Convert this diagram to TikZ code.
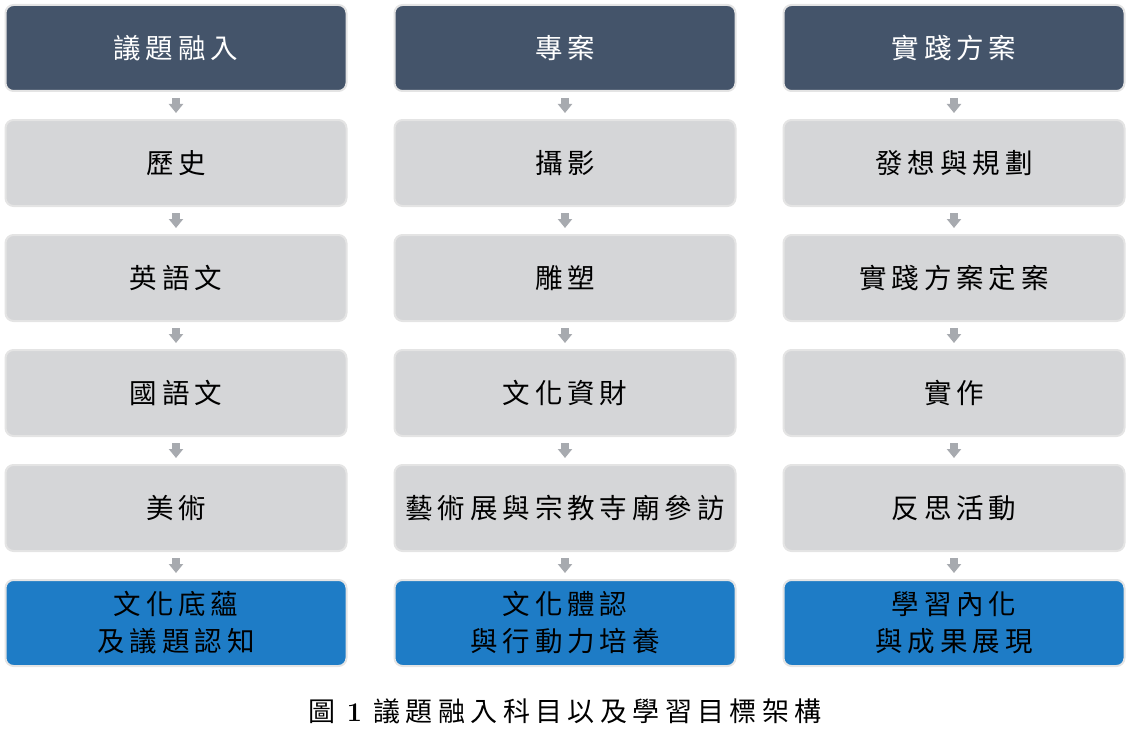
\documentclass[tikz,border=0pt]{standalone}
\usepackage{fontspec}
\usetikzlibrary{arrows.meta}
\newfontfamily\cjk[LetterSpace=18]{Noto Sans CJK TC}
\newfontfamily\cjkcap[LetterSpace=20]{Noto Sans CJK TC}
\definecolor{hdr}{HTML}{44546A}
\definecolor{gry}{HTML}{D5D6D8}
\definecolor{blu}{HTML}{1E7CC6}
\definecolor{edge}{HTML}{E4E4E4}
\definecolor{arr}{HTML}{A7AAAF}
\begin{document}
\begin{tikzpicture}[x=1pt,y=-1pt,
  box/.style={draw=edge,line width=2pt,rounded corners=8pt,minimum width=341pt,minimum height=86pt,
    align=center,inner sep=0pt,font=\cjk\fontsize{27.5}{37}\selectfont},
  hbox/.style={box,fill=hdr,text=white},
  gbox/.style={box,fill=gry,text=black},
  bbox/.style={box,fill=blu,text=black},
  flow/.style={draw=arr,line width=8pt,-{Triangle[width=14pt,length=9pt]},shorten <=6pt,shorten >=6pt}]
\useasboundingbox (0,0) rectangle (1131,741);
% column 1
\node[hbox] (a0) at (176,48) {議題融入};
\node[gbox] (a1) at (176,163) {歷史};
\node[gbox] (a2) at (176,278) {英語文};
\node[gbox] (a3) at (176,393) {國語文};
\node[gbox] (a4) at (176,508) {美術};
\node[bbox] (a5) at (176,623) {文化底蘊\\及議題認知};
% column 2
\node[hbox] (b0) at (565,48) {專案};
\node[gbox] (b1) at (565,163) {攝影};
\node[gbox] (b2) at (565,278) {雕塑};
\node[gbox] (b3) at (565,393) {文化資財};
\node[gbox] (b4) at (565,508) {藝術展與宗教寺廟參訪};
\node[bbox] (b5) at (565,623) {文化體認\\與行動力培養};
% column 3
\node[hbox] (c0) at (954,48) {實踐方案};
\node[gbox] (c1) at (954,163) {發想與規劃};
\node[gbox] (c2) at (954,278) {實踐方案定案};
\node[gbox] (c3) at (954,393) {實作};
\node[gbox] (c4) at (954,508) {反思活動};
\node[bbox] (c5) at (954,623) {學習內化\\與成果展現};
\foreach \c in {a,b,c}{
  \foreach \i [evaluate=\i as \j using int(\i+1)] in {0,...,4}{
    \draw[flow] (\c\i.south) -- (\c\j.north);
  }
}
\node[font=\cjkcap\fontsize{27}{30}\selectfont,inner sep=0pt] (cap) at (565,711) {圖 {\rmfamily\bfseries 1} 議題融入科目以及學習目標架構};
\end{tikzpicture}
\end{document}
